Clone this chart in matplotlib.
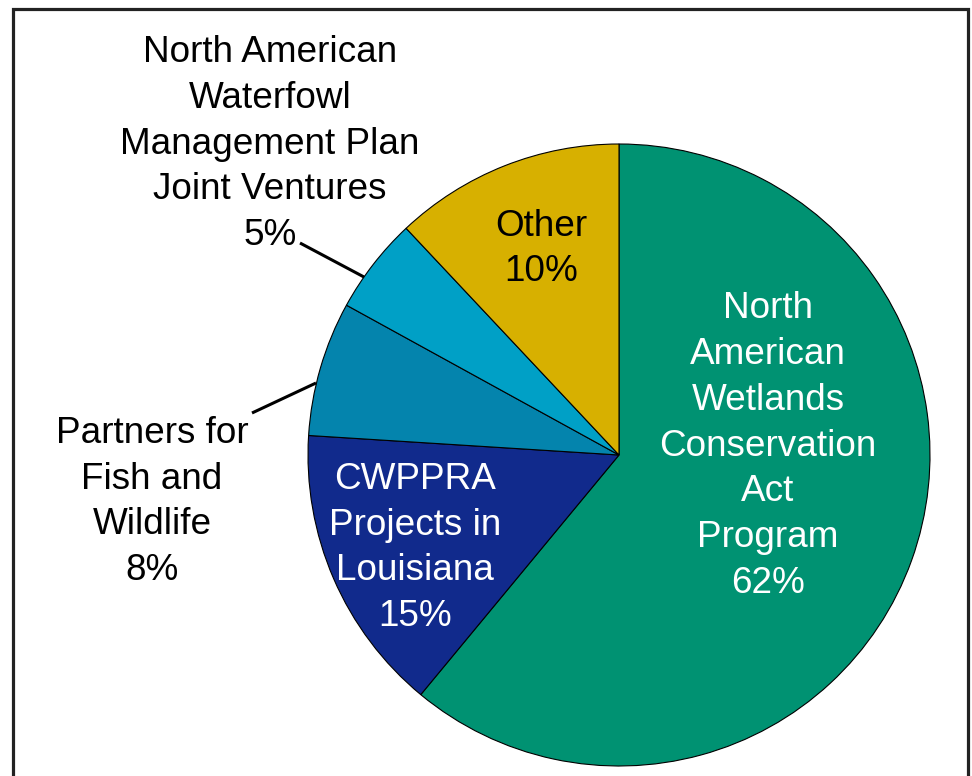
import matplotlib
matplotlib.use('Agg')
import matplotlib.pyplot as plt
from matplotlib.patches import Rectangle

plt.rcParams['font.family'] = ['Liberation Sans', 'DejaVu Sans']

# wedge sizes as drawn in the picture (percent labels are the printed ones)
programs = ['NAWCA', 'CWPPRA', 'Partners', 'NAWMP', 'Other']
shares = [61, 15, 7, 5, 12]
labels = [
    'North\nAmerican\nWetlands\nConservation\nAct\nProgram\n62%',
    'CWPPRA\nProjects in\nLouisiana\n15%',
    'Partners for\nFish and\nWildlife\n8%',
    'North American\nWaterfowl\nManagement Plan\nJoint Ventures\n5%',
    'Other\n10%',
]
colors = ['#009272', '#112a8c', '#0484ad', '#00a0c6', '#d7b000']

W, H = 972, 776
fig = plt.figure(figsize=(W / 100, H / 100), dpi=100)
ax = fig.add_axes([0, 0, 1, 1])

cx, cy, r = 619, H - 455, 311
ax.pie(shares, colors=colors, startangle=90, counterclock=False,
       center=(cx, cy), radius=r,
       wedgeprops=dict(edgecolor='black', linewidth=0.8))
ax.set_xlim(0, W)
ax.set_ylim(0, H)
ax.set_aspect('equal')
ax.axis('off')

# label positions in pixels from top-left
label_pos = [(768, 446), (415, 548), (152, 502), (270, 144), (541, 249)]
label_col = ['white', 'white', 'black', 'black', 'black']
for txt, (x, y), c in zip(labels, label_pos, label_col):
    ax.text(x, H - y, txt, ha='center', va='center', multialignment='center',
            fontsize=26.6, linespacing=1.4, color=c)

# leader lines
ax.plot([300, 364], [H - 243, H - 277], color='black', lw=2.2, solid_capstyle='butt')
ax.plot([252, 316], [H - 413, H - 383], color='black', lw=2.2, solid_capstyle='butt')

# frame
ax.add_patch(Rectangle((12.5, -10), 955.5, H - 9 + 10, fill=False,
                       edgecolor='#222222', linewidth=2.3, clip_on=False))

fig.savefig('out.png', dpi=100)
